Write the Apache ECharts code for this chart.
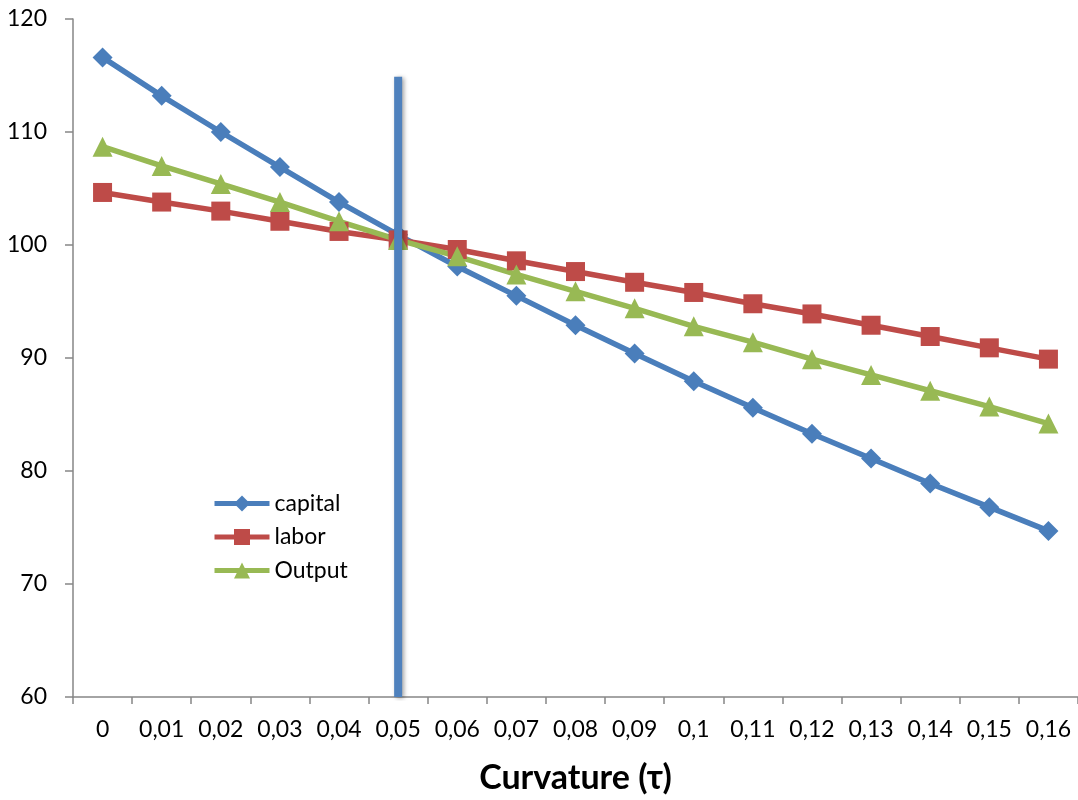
<!DOCTYPE html>
<html>
<head>
<meta charset="utf-8">
<title>Curvature</title>
<script src="https://cdn.jsdelivr.net/npm/echarts@6/dist/echarts.min.js"></script>
<style>
  html, body { margin: 0; padding: 0; background: #fff; }
  #chart { width: 1078px; height: 800px; }
</style>
</head>
<body>
<div id="chart"></div>
<script>
// Curvature parameter values (x categories)
const tauLabels = ['0', '0,01', '0,02', '0,03', '0,04', '0,05', '0,06', '0,07', '0,08',
  '0,09', '0,1', '0,11', '0,12', '0,13', '0,14', '0,15', '0,16'];

// Series values
const capital = [116.6, 113.2, 110.0, 106.9, 103.8, 100.9, 98.1, 95.5, 92.9,
  90.4, 87.95, 85.6, 83.3, 81.1, 78.9, 76.8, 74.7];
const labor = [104.65, 103.8, 103.0, 102.1, 101.2, 100.45, 99.6, 98.6, 97.65,
  96.7, 95.8, 94.8, 93.9, 92.9, 91.9, 90.9, 89.9];
const output = [108.7, 107.0, 105.4, 103.8, 102.1, 100.45, 99.0, 97.4, 95.9,
  94.4, 92.8, 91.4, 89.9, 88.5, 87.1, 85.7, 84.2];

// Vertical reference line at the chosen curvature
const refTau = '0,05';
const refRange = [60, 114.9];

// Y axis ticks
const yMin = 60, yMax = 120, yStep = 10;

const FONT = 'Lato, "Open Sans", "Liberation Sans", sans-serif';
const AXIS_COLOR = '#868686';

const chart = echarts.init(document.getElementById('chart'), null, { renderer: 'canvas' });

function lineSeries(name, data, color, symbol, size) {
  return {
    name: name,
    type: 'line',
    data: data,
    symbol: symbol,
    symbolSize: size,
    showSymbol: true,
    lineStyle: { color: color, width: 5.5 },
    itemStyle: { color: color, borderWidth: 0 },
    emphasis: { disabled: true },
    animation: false,
    z: 3
  };
}

chart.setOption({
  backgroundColor: '#ffffff',
  animation: false,
  grid: { left: 73, top: 19, width: 1010.5, height: 678, containLabel: false },
  legend: {
    data: ['capital', 'labor', 'Output'],
    orient: 'vertical',
    left: 212,
    top: 492,
    padding: 0,
    itemWidth: 55,
    itemHeight: 20,
    itemGap: 10.5,
    lineStyle: { width: 5 },
    textStyle: { fontFamily: FONT, fontSize: 23, color: '#000', lineHeight: 23, padding: [0, 0, 0, 0] },
    selectedMode: false
  },
  xAxis: {
    type: 'category',
    data: tauLabels,
    boundaryGap: true,
    name: 'Curvature (\u03C4)',
    nameLocation: 'middle',
    nameGap: 64,
    nameTextStyle: { fontFamily: FONT, fontSize: 34, fontWeight: 'bold', color: '#000' },
    axisLine: { lineStyle: { color: AXIS_COLOR, width: 1.5 } },
    axisTick: { show: true, length: 7, alignWithLabel: false, lineStyle: { color: AXIS_COLOR, width: 1.5 } },
    axisLabel: { fontFamily: FONT, fontSize: 23, color: '#000', margin: 21, interval: 0 },
    splitLine: { show: false }
  },
  yAxis: {
    type: 'value',
    min: yMin,
    max: yMax,
    interval: yStep,
    axisLine: { show: true, lineStyle: { color: AXIS_COLOR, width: 1.5 } },
    axisTick: { show: true, length: 8, lineStyle: { color: AXIS_COLOR, width: 1.5 } },
    axisLabel: { fontFamily: FONT, fontSize: 23, color: '#000', margin: 26 },
    splitLine: { show: false }
  },
  series: [
    lineSeries('capital', capital, '#4a7ebb', 'diamond', 20),
    lineSeries('labor', labor, '#be4b48', 'rect', 19),
    lineSeries('Output', output, '#98b954', 'triangle', 20),
    {
      name: 'ref',
      type: 'line',
      data: [[refTau, refRange[0]], [refTau, refRange[1]]],
      symbol: 'none',
      lineStyle: {
        color: '#4f81bd', width: 8, cap: 'butt',
        shadowColor: 'rgba(0,0,0,0.35)', shadowBlur: 4, shadowOffsetX: 2, shadowOffsetY: 1
      },
      emphasis: { disabled: true },
      silent: true,
      animation: false,
      z: 4
    }
  ]
});
</script>
</body>
</html>
